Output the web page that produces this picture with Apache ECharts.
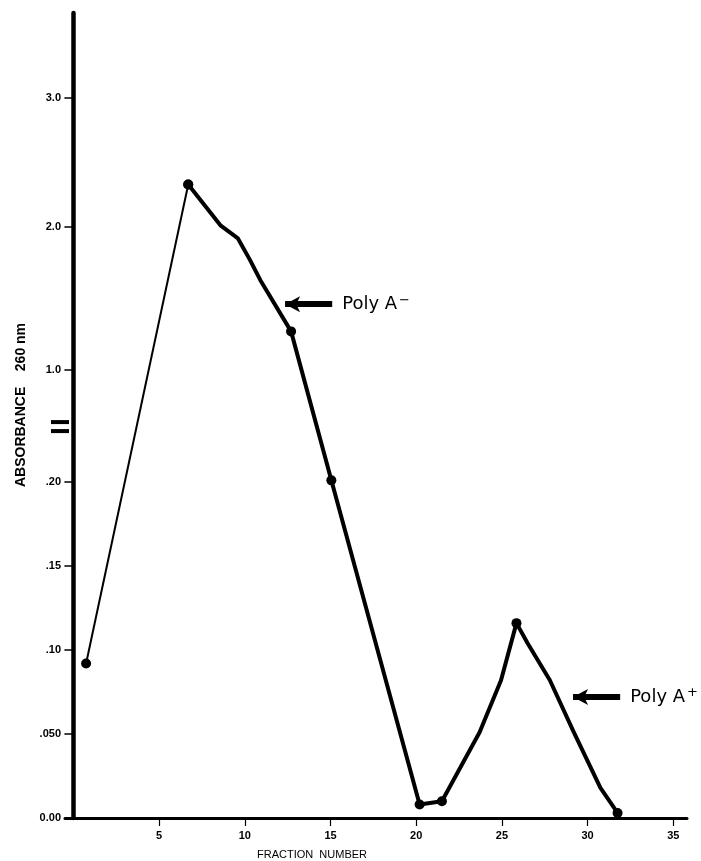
<!DOCTYPE html>
<html>
<head>
<meta charset="utf-8">
<script src="https://cdn.jsdelivr.net/npm/echarts@6/dist/echarts.min.js"></script>
<style>
  html, body { margin: 0; padding: 0; background: #fff; }
  #chart { width: 701px; height: 861px; }
</style>
</head>
<body>
<div id="chart"></div>
<script>
// Fraction number and absorbance (260 nm) of each point on the elution profile
const fractionNumber = [0.74, 6.7, 8.6, 9.6, 10.3, 10.9, 12.7, 15.05, 20.2, 21.5, 23.7, 24.95, 25.85, 26.5, 27.8, 29.2, 30.75, 31.75];
const absorbance260  = [0.092, 2.33, 2.01, 1.92, 1.77, 1.63, 1.27, 0.201, 0.008, 0.010, 0.051, 0.082, 0.116, 0.104, 0.082, 0.051, 0.018, 0.003];
// 1 = reading drawn with a dot
const dotted         = [1, 1, 0, 0, 0, 0, 1, 1, 1, 1, 0, 0, 1, 0, 0, 0, 0, 1];

// Y axis ticks (broken axis: fine scale below, coarse scale above)
const yTickValues = [0, 0.05, 0.10, 0.15, 0.20, 1.0, 2.0, 3.0];
const yTickLabels = ['0.00', '.050', '.10', '.15', '.20', '1.0', '2.0', '3.0'];
const xTickValues = [5, 10, 15, 20, 25, 30, 35];

// Peak annotations: [label, sign, arrow tip fraction, arrow tail fraction, absorbance]
const peakNotes = [
  ['Poly A', '\u2212', 12.35, 15.1, 1.46],
  ['Poly A', '+', 29.15, 31.9, 0.072]
];

// Broken scale. Below the break (up to LOWER_TOP) values are drawn as is;
// above it the hand-ruled coarse scale is followed stop by stop.
const LOWER_TOP = 0.2333;
const UPPER_VALUES = [0.608, 1.0, 2.0, 3.0];
const UPPER_UNITS  = [0.2333, 0.2667, 0.3518, 0.4286];
function toScale(v) {
  if (v <= LOWER_TOP) return v;
  const n = UPPER_VALUES.length;
  let i = 0;
  while (i < n - 2 && v > UPPER_VALUES[i + 1]) i++;
  const t = (v - UPPER_VALUES[i]) / (UPPER_VALUES[i + 1] - UPPER_VALUES[i]);
  return UPPER_UNITS[i] + t * (UPPER_UNITS[i + 1] - UPPER_UNITS[i]);
}

const X_MIN = -0.49, X_MAX = 35.8, Y_MAX = 0.4792;
const FONT = '"Liberation Sans", Arial, sans-serif';
const NOTE_FONT = '"DejaVu Sans", "Liberation Sans", sans-serif';

function point(i) {
  return {
    value: [fractionNumber[i], toScale(absorbance260[i])],
    symbol: dotted[i] ? 'circle' : 'none'
  };
}
const thinPart = [0, 1].map(point);
const thickPart = fractionNumber.map((_, i) => i).filter(i => i >= 1).map(point);

const chart = echarts.init(document.getElementById('chart'), null, { renderer: 'canvas' });

chart.setOption({
  animation: false,
  backgroundColor: '#fff',
  grid: { left: 65, right: 14, top: 13, bottom: 43, containLabel: false },
  xAxis: {
    type: 'value',
    min: X_MIN,
    max: X_MAX,
    axisLine: { show: true, lineStyle: { color: '#000', width: 3 } },
    axisTick: { show: true, customValues: xTickValues, length: 8, lineStyle: { color: '#000', width: 1.2 } },
    axisLabel: {
      customValues: xTickValues, color: '#000', fontSize: 11, fontFamily: FONT,
      fontWeight: 'bold', margin: 12
    },
    splitLine: { show: false }
  },
  yAxis: {
    type: 'value',
    min: 0,
    max: Y_MAX,
    axisLine: { show: true, lineStyle: { color: '#000', width: 4.5 } },
    axisTick: {
      show: true, customValues: yTickValues.map(toScale), length: 9,
      lineStyle: { color: '#000', width: 1.5 }
    },
    axisLabel: {
      customValues: yTickValues.map(toScale),
      color: '#000', fontSize: 11, fontFamily: FONT, fontWeight: 'bold', margin: 4,
      formatter: function (val) {
        let best = 0;
        yTickValues.forEach((t, i) => {
          if (Math.abs(toScale(t) - val) < Math.abs(toScale(yTickValues[best]) - val)) best = i;
        });
        return yTickLabels[best];
      }
    },
    splitLine: { show: false }
  },
  series: [
    {
      type: 'line',
      data: thinPart,
      symbolSize: 10,
      itemStyle: { color: '#000' },
      lineStyle: { color: '#000', width: 2 },
      z: 3
    },
    {
      type: 'line',
      data: thickPart,
      symbolSize: 10,
      itemStyle: { color: '#000' },
      lineStyle: { color: '#000', width: 4, join: 'round', cap: 'round' },
      z: 4,
      markLine: {
        silent: true,
        symbol: ['arrow', 'none'],
        symbolSize: [12, 15],
        lineStyle: { color: '#000', width: 6, type: 'solid' },
        label: {
          show: true,
          position: 'end',
          distance: 10,
          color: '#000',
          formatter: p => '{a|' + p.data.note + '}{s|' + p.data.sign + '}',
          rich: {
            a: { fontSize: 18, fontFamily: NOTE_FONT, color: '#000' },
            s: { fontSize: 13, fontFamily: NOTE_FONT, color: '#000', padding: [0, 0, 8, 2] }
          }
        },
        data: peakNotes.map(n => [
          { coord: [n[2], toScale(n[4])], note: n[0], sign: n[1] },
          { coord: [n[3], toScale(n[4])] }
        ])
      }
    }
  ]
});

// Axis titles and the break marks on the absorbance axis
const axisX = chart.convertToPixel({ xAxisIndex: 0 }, X_MIN);
const breakY = chart.convertToPixel({ yAxisIndex: 0 }, LOWER_TOP);
chart.setOption({
  graphic: [
    {
      type: 'text', x: 21, y: 405, rotation: Math.PI / 2,
      style: {
        text: 'ABSORBANCE    260 nm', fill: '#000', font: 'bold 14px ' + FONT,
        align: 'center', verticalAlign: 'middle'
      }
    },
    {
      type: 'text', x: 312, y: 855,
      style: {
        text: 'FRACTION  NUMBER', fill: '#000', font: '11px ' + FONT,
        align: 'center', verticalAlign: 'middle'
      }
    },
    { type: 'rect', shape: { x: axisX - 14, y: breakY - 6, width: 18, height: 4 }, style: { fill: '#000' } },
    { type: 'rect', shape: { x: axisX - 14, y: breakY + 3, width: 18, height: 4 }, style: { fill: '#000' } }
  ]
});
</script>
</body>
</html>
